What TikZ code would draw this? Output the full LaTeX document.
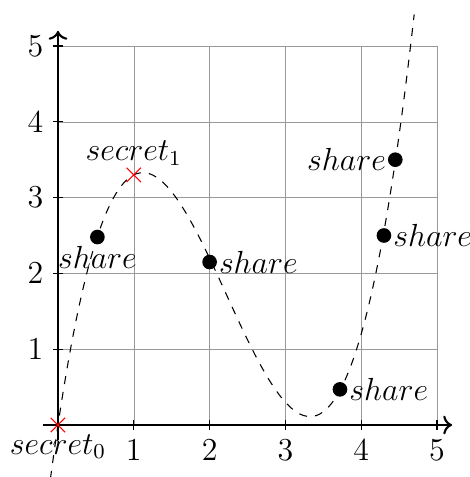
\documentclass[tikz,border=0pt]{standalone}
\usepackage{amsmath}
\usetikzlibrary{
    arrows.meta,
    positioning,
    shapes.misc
}
\tikzset{
    % --- Share point (filled dot on the curve) ---
    share dot/.style = {
        circle, fill=black,
        minimum size=5.5pt, inner sep=0pt
    },
    % --- Secret point (red cross) ---
    secret mark/.style = {
        cross out, draw=red, thin,
        minimum size=5pt, inner sep=0pt
    },
    % --- Background grid ---
    grid lines/.style = {
        gray!80, very thin
    },
    % --- Coordinate axis ---
    axis line/.style = {
        ->, thick
    },
    % --- Tick mark ---
    tick/.style = {
        thin
    },
    % --- Polynomial curve ---
    poly curve/.style = {
        dashed, thin, smooth,
        samples=90, domain=-0.1:4.7
    }
}

\begin{document}
\begin{tikzpicture}[font=\large]

\useasboundingbox (-0.765,-0.686) rectangle (5.435,5.607);

% ---------------------------------------------------------
% Grid and axes
% ---------------------------------------------------------
\draw[grid lines] (0,0) grid (5,5);

\coordinate (xmin) at (-0.2,0);
\coordinate (xmax) at (5.2,0);
\coordinate (ymin) at (0,-0.2);
\coordinate (ymax) at (0,5.2);
\draw[axis line] (xmin) -- (xmax);
\draw[axis line] (ymin) -- (ymax);

% Ticks and tick labels
\foreach \i in {1,...,5} {
    \draw[tick] (\i,2pt) -- (\i,-2pt) node[below] (xt\i) {$\i$};
    \draw[tick] (2pt,\i) -- (-2pt,\i) node[left] (yt\i) {$\i$};
}

% ---------------------------------------------------------
% Polynomial
% ---------------------------------------------------------
\draw[poly curve] plot (\x, {0.6*(\x)*(\x)*(\x) - 4*(\x)*(\x) + 6.7*(\x)});

% ---------------------------------------------------------
% Secrets
% ---------------------------------------------------------
\node[secret mark] (S0) at (0,0) {};
\node[below] (S0lab) at (S0.center) {$secret_0$};

\node[secret mark] (S1) at (1,3.3) {};
\node[above] (S1lab) at (S1.center) {$secret_1$};

% ---------------------------------------------------------
% Shares
% ---------------------------------------------------------
\node[share dot] (P1) at (0.52,2.48) {};
\node[below] (P1lab) at (P1.center) {$share$};

\node[share dot] (P2) at (2,2.15) {};
\node[right] (P2lab) at (P2.center) {$share$};

\node[share dot] (P3) at (3.72,0.47) {};
\node[right] (P3lab) at (P3.center) {$share$};

\node[share dot] (P4) at (4.3,2.5) {};
\node[right] (P4lab) at (P4.center) {$share$};

\node[share dot] (P5) at (4.45,3.5) {};
\node[left] (P5lab) at (P5.center) {$share$};

\end{tikzpicture}
\end{document}
